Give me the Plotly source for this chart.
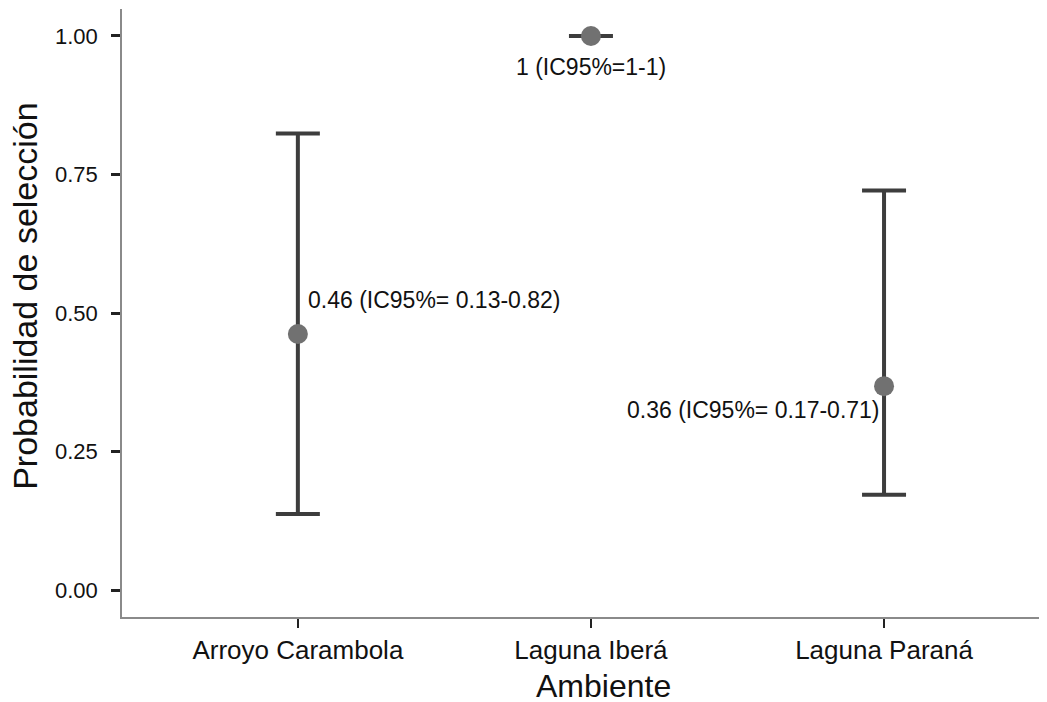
import plotly.graph_objects as go

categories = ["Arroyo Carambola", "Laguna Iberá", "Laguna Paraná"]
prob = [0.462, 1.0, 0.368]
ic_low = [0.137, 1.0, 0.172]
ic_high = [0.824, 1.0, 0.721]
labels = ["0.46 (IC95%= 0.13-0.82)", "1 (IC95%=1-1)", "0.36 (IC95%= 0.17-0.71)"]
label_y = [0.523, 0.944, 0.325]
y_ticks = [0.0, 0.25, 0.5, 0.75, 1.0]
y_ticklabels = ["0.00", "0.25", "0.50", "0.75", "1.00"]
x_title = "Ambiente"
y_title = "Probabilidad de selección"

font_family = "Liberation Sans, Arial, sans-serif"
txt_color = "#111111"

fig = go.Figure()
fig.add_trace(go.Scatter(
    x=list(range(len(categories))),
    y=prob,
    mode="markers",
    marker=dict(size=20, color="#717171", line=dict(width=0)),
    error_y=dict(
        type="data", symmetric=False,
        array=[h - p for h, p in zip(ic_high, prob)],
        arrayminus=[p - l for p, l in zip(prob, ic_low)],
        color="#3d3d3d", thickness=4, width=22,
    ),
    showlegend=False,
    hoverinfo="skip",
))

anchors = ["left", "center", "right"]
shifts = [8, 0, -2]
for i, (txt, yy) in enumerate(zip(labels, label_y)):
    fig.add_annotation(
        x=i, y=yy, text=txt, showarrow=False,
        xanchor=anchors[i], yanchor="middle", xshift=shifts[i],
        font=dict(family=font_family, size=23, color=txt_color),
    )

# axis titles placed as annotations (paper coordinates)
fig.add_annotation(
    xref="paper", yref="paper", x=0.52, y=-0.113, text=x_title, showarrow=False,
    xanchor="center", yanchor="middle",
    font=dict(family=font_family, size=32, color=txt_color),
)
fig.add_annotation(
    xref="paper", yref="paper", x=-0.105, y=0.528, text=y_title, showarrow=False,
    xanchor="center", yanchor="middle", textangle=-90,
    font=dict(family=font_family, size=34, color=txt_color),
)

fig.update_layout(
    width=1039, height=694,
    margin=dict(l=114, r=0, t=1, b=85),
    plot_bgcolor="white", paper_bgcolor="white",
    font=dict(family=font_family, color=txt_color),
    xaxis=dict(
        range=[-0.6, 2.556], automargin=False,
        tickmode="array", tickvals=list(range(len(categories))), ticktext=categories,
        showgrid=False, zeroline=False,
        showline=True, linecolor="#8a8a8a", linewidth=1.5,
        ticks="outside", ticklen=9, tickwidth=2, tickcolor="#222222",
        tickfont=dict(family=font_family, size=26, color=txt_color),
    ),
    yaxis=dict(
        range=[-0.0487, 1.0487], automargin=False,
        tickmode="array", tickvals=y_ticks, ticktext=y_ticklabels,
        showgrid=False, zeroline=False,
        showline=True, linecolor="#8a8a8a", linewidth=1.5,
        ticks="outside", ticklen=9, tickwidth=2.5, tickcolor="#222222",
        ticklabelstandoff=9,
        tickfont=dict(family=font_family, size=22, color=txt_color),
    ),
)

fig.write_html("out.html")
